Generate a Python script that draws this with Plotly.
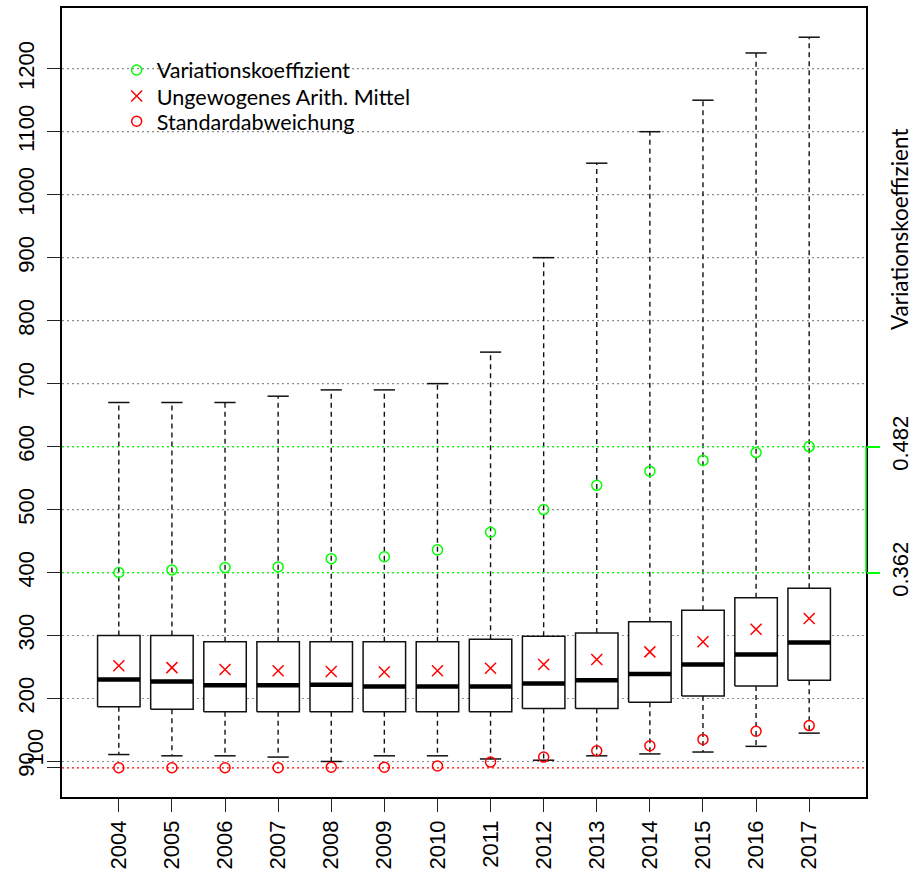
import plotly.graph_objects as go

# Yearly distribution summary (box statistics) plus mean, SD and coefficient of variation
years = [2004, 2005, 2006, 2007, 2008, 2009, 2010, 2011, 2012, 2013, 2014, 2015, 2016, 2017]
lower_whisker = [111, 109, 109, 107, 100, 109, 109, 104, 102, 109, 112, 115, 124, 145]
q1 = [187, 183, 179, 179, 179, 179, 179, 179, 184, 184, 194, 204, 220, 229]
median = [230, 227, 221, 221, 222, 219, 219, 219, 224, 229, 239, 254, 270, 289]
q3 = [300, 300, 290, 290, 290, 290, 290, 294, 299, 304, 322, 340, 360, 375]
upper_whisker = [670, 670, 670, 680, 690, 690, 700, 750, 900, 1050, 1100, 1150, 1225, 1250]
mean = [252, 249, 246, 244, 243, 242, 244, 248, 254, 262, 274, 290, 310, 327]
std_dev = [90, 90, 90, 90, 91, 91, 93, 99, 107, 117, 125, 135, 148, 157]
coef_var = [0.362, 0.3644, 0.3668, 0.3674, 0.3752, 0.377, 0.3836, 0.4004,
            0.422, 0.4451, 0.4586, 0.4688, 0.4763, 0.482]

grid_ticks = [100, 200, 300, 400, 500, 600, 700, 800, 900, 1000, 1100, 1200]

# The coefficient of variation is rescaled onto the main axis: its min/max sit on these levels
CV_LOW_LEVEL, CV_HIGH_LEVEL = 400, 600

GREEN = "#00FF00"
RED = "#FF0000"
TICK_FONT = dict(family="Liberation Sans, Arial", size=22, color="black")
LEGEND_FONT = dict(family="Lato", size=21.6, color="black")

pos = list(range(1, len(years) + 1))
box_half = 0.4
cap_half = 0.2

cv_min, cv_max = min(coef_var), max(coef_var)
cv_scaled = [CV_LOW_LEVEL + (c - cv_min) / (cv_max - cv_min) * (CV_HIGH_LEVEL - CV_LOW_LEVEL)
             for c in coef_var]
sd_min = min(std_dev)

# y range as in R: data span extended by 4 % on both ends
lo_all = min(min(lower_whisker), sd_min)
hi_all = max(upper_whisker)
span = hi_all - lo_all
y_range = [lo_all - 0.04 * span, hi_all + 0.04 * span]
x_range = [-0.07, len(years) + 1.07]

fig = go.Figure()

# boxes (white fill hides the grid behind them)
bx, by = [], []
for p, a, b in zip(pos, q1, q3):
    bx += [p - box_half, p + box_half, p + box_half, p - box_half, p - box_half, None]
    by += [a, a, b, b, a, None]
fig.add_trace(go.Scatter(x=bx, y=by, mode="lines", fill="toself", fillcolor="white",
                         line=dict(color="#111111", width=1.5), showlegend=False,
                         hoverinfo="skip"))

# dashed whiskers
wx, wy = [], []
for p, lw, a, b, uw in zip(pos, lower_whisker, q1, q3, upper_whisker):
    wx += [p, p, None, p, p, None]
    wy += [b, uw, None, a, lw, None]
fig.add_trace(go.Scatter(x=wx, y=wy, mode="lines",
                         line=dict(color="#111111", width=1.4, dash="5px,4px"),
                         showlegend=False, hoverinfo="skip"))

# whisker caps
cx, cy = [], []
for p, lw, uw in zip(pos, lower_whisker, upper_whisker):
    cx += [p - cap_half, p + cap_half, None, p - cap_half, p + cap_half, None]
    cy += [uw, uw, None, lw, lw, None]
fig.add_trace(go.Scatter(x=cx, y=cy, mode="lines", line=dict(color="#111111", width=1.5),
                         showlegend=False, hoverinfo="skip"))

# medians
mx, my = [], []
for p, m in zip(pos, median):
    mx += [p - box_half, p + box_half, None]
    my += [m, m, None]
fig.add_trace(go.Scatter(x=mx, y=my, mode="lines", line=dict(color="black", width=4.5),
                         showlegend=False, hoverinfo="skip"))

# point series, each with its own legend entry row
fig.add_trace(go.Scatter(x=pos, y=cv_scaled, mode="markers", name="Variationskoeffizient",
                         marker=dict(symbol="circle-open", size=10, color=GREEN,
                                     line=dict(width=1.5, color=GREEN)),
                         legend="legend"))
fig.add_trace(go.Scatter(x=pos, y=mean, mode="markers", name="Ungewogenes Arith. Mittel",
                         marker=dict(symbol="x-thin", size=11, color=RED,
                                     line=dict(width=1.5, color=RED)),
                         legend="legend2"))
fig.add_trace(go.Scatter(x=pos, y=std_dev, mode="markers", name="Standardabweichung",
                         marker=dict(symbol="circle-open", size=10, color=RED,
                                     line=dict(width=1.5, color=RED)),
                         legend="legend3"))

# secondary (right) axis carrying the coefficient-of-variation labels
fig.add_trace(go.Scatter(x=[pos[0]], y=[CV_LOW_LEVEL], yaxis="y2", mode="markers",
                         marker=dict(opacity=0), showlegend=False, hoverinfo="skip"))

shapes = []
for t in grid_ticks:
    shapes.append(dict(type="line", xref="paper", x0=0, x1=1, yref="y", y0=t, y1=t,
                       line=dict(color="#8c8c8c", width=1.2, dash="2px,3px"), layer="below"))
shapes.append(dict(type="line", xref="paper", x0=0, x1=1, yref="y", y0=sd_min, y1=sd_min,
                   line=dict(color=RED, width=1.3, dash="2px,3px"), layer="below"))
for lvl in (CV_LOW_LEVEL, CV_HIGH_LEVEL):
    shapes.append(dict(type="line", xref="paper", x0=0, x1=1, yref="y", y0=lvl, y1=lvl,
                       line=dict(color=GREEN, width=1.3, dash="2px,3px"), layer="above"))
shapes.append(dict(type="line", xref="paper", x0=1, x1=1, yref="y",
                   y0=CV_LOW_LEVEL, y1=CV_HIGH_LEVEL,
                   line=dict(color=GREEN, width=1.5), layer="above"))

legend_common = dict(x=0.068, xanchor="left", yanchor="middle", bgcolor="rgba(0,0,0,0)",
                     font=LEGEND_FONT, itemwidth=30)

# left tick labels; the "100" label is set slightly apart so it does not collide with "90"
left_vals = [sd_min] + grid_ticks
left_text = [str(round(sd_min))] + ["" if t == 100 else str(t) for t in grid_ticks]

fig.update_layout(
    width=913, height=874,
    margin=dict(l=62, r=47, t=8, b=77),
    paper_bgcolor="white", plot_bgcolor="white",
    shapes=shapes,
    showlegend=True,
    legend=dict(y=0.9208, **legend_common),
    legend2=dict(y=0.8878, **legend_common),
    legend3=dict(y=0.8559, **legend_common),
    xaxis=dict(range=x_range, tickmode="array", tickvals=pos, ticktext=[str(y) for y in years],
               tickangle=-90, ticks="outside", ticklen=13, tickwidth=1.2, tickcolor="#222222",
               showgrid=False, zeroline=False, showline=True, linecolor="black", linewidth=1.5,
               mirror=True, tickfont=TICK_FONT, automargin=False),
    yaxis=dict(range=y_range, tickmode="array", tickvals=left_vals, ticktext=left_text,
               tickangle=-90, ticks="outside", ticklen=13, tickwidth=1.2, tickcolor="#222222",
               showgrid=False, zeroline=False, showline=True, linecolor="black", linewidth=1.5,
               mirror=True, tickfont=TICK_FONT, automargin=False, ticklabelstandoff=4),
    yaxis2=dict(range=y_range, overlaying="y", side="right", tickmode="array",
                tickvals=[CV_LOW_LEVEL, CV_HIGH_LEVEL],
                ticktext=[f"{cv_min:.3f}", f"{cv_max:.3f}"],
                tickangle=-90, ticks="outside", ticklen=13, tickwidth=1.5, tickcolor=GREEN,
                showgrid=False, zeroline=False, showline=False, tickfont=TICK_FONT,
                automargin=False, ticklabelstandoff=2),
    annotations=[
        dict(text="Variationskoeffizient", xref="paper", x=1.0415, xanchor="center",
             yref="y", y=946, yanchor="middle",
             textangle=-90, showarrow=False, font=dict(family="Lato", size=22.5, color="black")),
        dict(text="100", xref="paper", x=0, xanchor="center", xshift=-27,
             yref="y", y=100, yanchor="middle", yshift=14, textangle=-90, showarrow=False,
             font=TICK_FONT),
    ],
)

fig.write_html("out.html")
